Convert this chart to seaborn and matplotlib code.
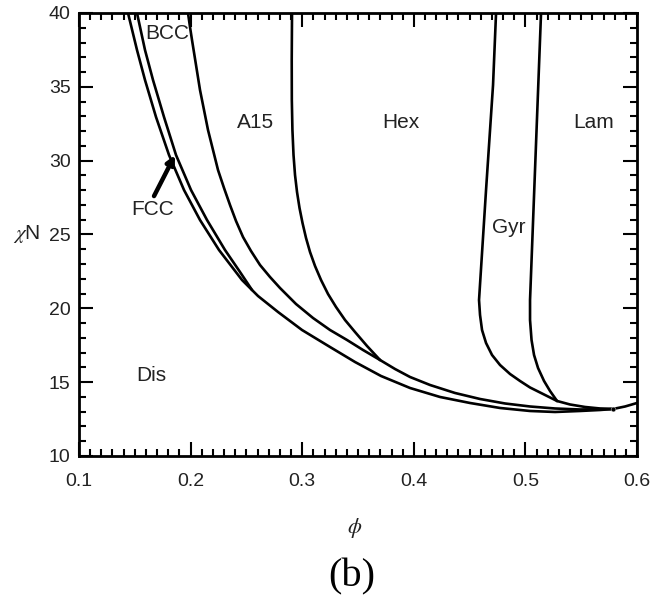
import matplotlib
matplotlib.use("Agg")
import matplotlib.pyplot as plt
import seaborn as sns
import pandas as pd
from matplotlib.ticker import MultipleLocator

# ---- phase boundaries (phi, chiN) ----
dis_phi = [0.14391, 0.15197, 0.15914, 0.16900, 0.18065, 0.19409, 0.20842, 0.22545, 0.24606,
           0.26039, 0.27832, 0.29982, 0.32491, 0.34731, 0.37061, 0.39659, 0.42348, 0.45036,
           0.47724, 0.50412, 0.52652, 0.54892, 0.56685, 0.57849, 0.58925, 0.60000]
dis_chin = [39.993, 37.488, 35.457, 32.952, 30.379, 28.009, 25.978, 23.947, 21.916,
            20.833, 19.750, 18.531, 17.380, 16.364, 15.416, 14.604, 13.995, 13.588,
            13.250, 13.047, 12.979, 13.047, 13.114, 13.182, 13.351, 13.588]

fccbcc_phi = [0.15197, 0.15914, 0.16631, 0.17616, 0.18692, 0.20036, 0.21470, 0.23082, 0.24427, 0.25502]
fccbcc_chin = [39.993, 37.488, 35.457, 32.952, 30.379, 28.009, 25.978, 23.947, 22.458, 21.239]

bcca15_phi = [0.19767, 0.19946, 0.20125, 0.20484, 0.20842, 0.21201, 0.21559, 0.22007, 0.22455,
              0.22993, 0.23530, 0.24068, 0.24695, 0.25412, 0.26219, 0.27115, 0.28011, 0.29444,
              0.30968, 0.32491, 0.34014, 0.35448, 0.36971]
bcca15_chin = [39.993, 39.045, 38.166, 36.473, 34.780, 33.426, 32.072, 30.718, 29.364,
               28.145, 26.994, 25.911, 24.827, 23.879, 22.932, 22.119, 21.374, 20.291,
               19.343, 18.531, 17.854, 17.177, 16.500]

a15hex_phi = [0.29086, 0.29059, 0.29068, 0.29122, 0.29220, 0.29355, 0.29534, 0.29758, 0.30027,
              0.30341, 0.30699, 0.31147, 0.31685, 0.32312, 0.33029, 0.33835, 0.34731, 0.35806, 0.36971]
a15hex_chin = [39.993, 36.811, 34.103, 32.072, 30.379, 29.025, 27.874, 26.791, 25.775,
               24.760, 23.812, 22.864, 21.916, 20.968, 20.088, 19.208, 18.395, 17.448, 16.500]

bcchex_phi = [0.36971, 0.38315, 0.39659, 0.41452, 0.43692, 0.45932, 0.48172, 0.50412, 0.52652, 0.54892, 0.57849]
bcchex_chin = [16.500, 15.890, 15.349, 14.807, 14.265, 13.859, 13.555, 13.351, 13.216, 13.148, 13.182]

hexgyr_phi = [0.47366, 0.47097, 0.46470, 0.45842, 0.45932, 0.46111, 0.46470, 0.47007, 0.47724,
              0.48620, 0.49516, 0.50412, 0.51577, 0.52832]
hexgyr_chin = [39.993, 35.119, 28.009, 20.562, 19.546, 18.531, 17.651, 16.838, 16.161,
               15.552, 15.078, 14.638, 14.198, 13.724]

gyrlam_phi = [0.51398, 0.50905, 0.50412, 0.50412, 0.50547, 0.50771, 0.51129, 0.51667, 0.52204, 0.52832]
gyrlam_chin = [39.993, 30.280, 20.562, 19.208, 17.854, 16.838, 15.958, 15.078, 14.401, 13.724]

hexlam_phi = [0.52832, 0.53996, 0.55341, 0.56685, 0.57849]
hexlam_chin = [13.724, 13.487, 13.318, 13.216, 13.182]

crit_phi = [0.57849]
crit_chin = [13.182]

phase_labels = ["BCC", "A15", "Hex", "Lam", "Gyr", "FCC", "Dis"]
label_phi = [0.1789, 0.2577, 0.3885, 0.5615, 0.4853, 0.1663, 0.1645]
label_chin = [38.64, 32.61, 32.61, 32.61, 25.50, 26.66, 15.48]

x_ticks = [0.1, 0.2, 0.3, 0.4, 0.5, 0.6]
y_ticks = [10, 15, 20, 25, 30, 35, 40]

curves = {
    "Dis": (dis_phi, dis_chin),
    "FCC/BCC": (fccbcc_phi, fccbcc_chin),
    "BCC/A15": (bcca15_phi, bcca15_chin),
    "A15/Hex": (a15hex_phi, a15hex_chin),
    "BCC/Hex": (bcchex_phi, bcchex_chin),
    "Hex/Gyr": (hexgyr_phi, hexgyr_chin),
    "Gyr/Lam": (gyrlam_phi, gyrlam_chin),
    "Hex/Lam": (hexlam_phi, hexlam_chin),
}

sns.set_style("ticks")
plt.rcParams['font.family'] = ['Liberation Sans', 'DejaVu Sans']
plt.rcParams['mathtext.fontset'] = 'stix'

fig = plt.figure(figsize=(6.64, 5.98), dpi=100)
ax = fig.add_axes([0.119, 0.2375, 0.8404, 0.7408])

for name, (px, py) in curves.items():
    df = pd.DataFrame({"phi": px, "chiN": py})
    sns.lineplot(data=df, x="phi", y="chiN", sort=False, estimator=None,
                 color="black", lw=1.9, ax=ax)
for line in ax.lines:
    line.set_solid_joinstyle("round")
    line.set_solid_capstyle("round")

sns.scatterplot(x=crit_phi, y=crit_chin, color="black", s=12, ax=ax, zorder=5)

for t, x, y in zip(phase_labels, label_phi, label_chin):
    ax.text(x, y, t, ha="center", va="center", fontsize=15, color="#222222")

ax.annotate("", xy=(0.186, 30.38), xytext=(0.1672, 27.60),
            arrowprops=dict(arrowstyle="-|>", lw=3.2, color="black", mutation_scale=12,
                            shrinkA=0, shrinkB=0))

ax.set_xlim(0.1, 0.6)
ax.set_ylim(10, 40)
ax.set_xticks(x_ticks)
ax.set_yticks(y_ticks)
ax.set_xticklabels([f"{v:.1f}" for v in x_ticks])
ax.set_yticklabels([str(v) for v in y_ticks])
ax.xaxis.set_minor_locator(MultipleLocator(0.01))
ax.yaxis.set_minor_locator(MultipleLocator(1))
ax.tick_params(which="both", direction="in", top=True, right=True, width=1.5,
               colors="black", labelcolor="#222222", labelsize=14)
ax.tick_params(which="major", length=10)
ax.tick_params(which="minor", length=5)
ax.tick_params(axis="x", which="major", pad=12)
ax.tick_params(axis="y", which="major", pad=6)
for s in ax.spines.values():
    s.set_linewidth(2)
    s.set_color("black")

ax.set_xlabel("$\\phi$", fontsize=16, color="#222222")
ax.xaxis.set_label_coords(0.493, -0.135)
ax.set_ylabel("$\\chi$N", fontsize=15, rotation=0, color="#222222", ha="center", va="center")
ax.yaxis.set_label_coords(-0.093, 0.50)

fig.text(0.530, 0.035, "(b)", ha="center", va="center", fontsize=29,
         family=["Liberation Serif", "DejaVu Serif"], color="black")

fig.savefig("out.png", dpi=100, facecolor="white")
